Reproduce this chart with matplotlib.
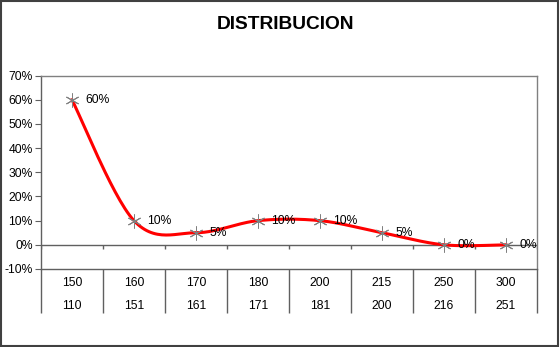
import numpy as np
import matplotlib.pyplot as plt
from matplotlib.patches import Rectangle
from matplotlib.ticker import FuncFormatter

plt.rcParams['font.family'] = ['Liberation Sans', 'DejaVu Sans']

# Rangos de la distribucion (limite superior / limite inferior)
upper = ['150', '160', '170', '180', '200', '215', '250', '300']
lower = ['110', '151', '161', '171', '181', '200', '216', '251']
pct = [0.60, 0.10, 0.05, 0.10, 0.10, 0.05, 0.00, 0.00]

x = np.arange(len(pct)) + 0.5
y = np.array(pct)


# Suavizado tipo Catmull-Rom (como la linea suavizada de Excel)
def smooth(xs, ys, n=30):
    px = np.concatenate([[xs[0]], xs, [xs[-1]]])
    py = np.concatenate([[ys[0]], ys, [ys[-1]]])
    out_x, out_y = [], []
    t = np.linspace(0, 1, n)
    for i in range(1, len(px) - 2):
        p0x, p1x, p2x, p3x = px[i - 1], px[i], px[i + 1], px[i + 2]
        p0y, p1y, p2y, p3y = py[i - 1], py[i], py[i + 1], py[i + 2]
        c1x, c1y = p1x + (p2x - p0x) / 6, p1y + (p2y - p0y) / 6
        c2x, c2y = p2x - (p3x - p1x) / 6, p2y - (p3y - p1y) / 6
        bx = (1 - t) ** 3 * p1x + 3 * (1 - t) ** 2 * t * c1x + 3 * (1 - t) * t ** 2 * c2x + t ** 3 * p2x
        by = (1 - t) ** 3 * p1y + 3 * (1 - t) ** 2 * t * c1y + 3 * (1 - t) * t ** 2 * c2y + t ** 3 * p2y
        out_x.extend(bx)
        out_y.extend(by)
    return np.array(out_x), np.array(out_y)


fig = plt.figure(figsize=(5.6, 3.47), dpi=100)
fig.patch.set_facecolor('white')
fig.patches.append(Rectangle((0.002, 0.003), 0.995, 0.994, transform=fig.transFigure,
                             fill=False, edgecolor='#404040', linewidth=1.5))

ax = fig.add_axes([0.0732, 0.2248, 0.8857, 0.5573])
grey = '#808080'
axis_col = '#606060'
fs = 8.7

sx, sy = smooth(x, y)
ax.plot(sx, sy, color='#ff0000', linewidth=2.2, zorder=3)
ax.plot(x, y, linestyle='none', marker=(6, 2, 0), markersize=10,
        markeredgecolor='#808080', markeredgewidth=0.7, zorder=4)

for xi, yi in zip(x, y):
    ax.annotate(f'{yi:.0%}', (xi, yi), xytext=(9.5, 0), textcoords='offset points',
                va='center', ha='left', fontsize=fs, color='black', zorder=5)

ax.set_xlim(0, len(pct))
ax.set_ylim(-0.1, 0.7)
ax.set_yticks(np.arange(-0.1, 0.71, 0.1))
ax.yaxis.set_major_formatter(FuncFormatter(lambda v, p: f'{v:.0%}'))
ax.tick_params(axis='y', labelsize=fs, length=4, color=axis_col, pad=2)

# Separadores de categorias
ax.set_xticks(np.arange(len(pct) + 1))
ax.set_xticklabels([])
ax.tick_params(axis='x', length=32, color=axis_col, width=1)

ax.axhline(0, color=axis_col, linewidth=1, zorder=2)
ax.vlines(np.arange(len(pct) + 1), -0.016, 0, color=axis_col, linewidth=1)

for sp in ax.spines.values():
    sp.set_color(grey)
    sp.set_linewidth(1)
ax.spines['left'].set_color(axis_col)
ax.spines['bottom'].set_color(axis_col)

tr = ax.get_xaxis_transform()
for xi, u, l in zip(x, upper, lower):
    ax.text(xi, -0.072, u, transform=tr, ha='center', va='center', fontsize=fs)
    ax.text(xi, -0.191, l, transform=tr, ha='center', va='center', fontsize=fs)

fig.text(0.509, 0.928, 'DISTRIBUCION', ha='center', va='center',
         fontsize=13.8, fontweight='bold')

fig.savefig('out.png', dpi=100)
